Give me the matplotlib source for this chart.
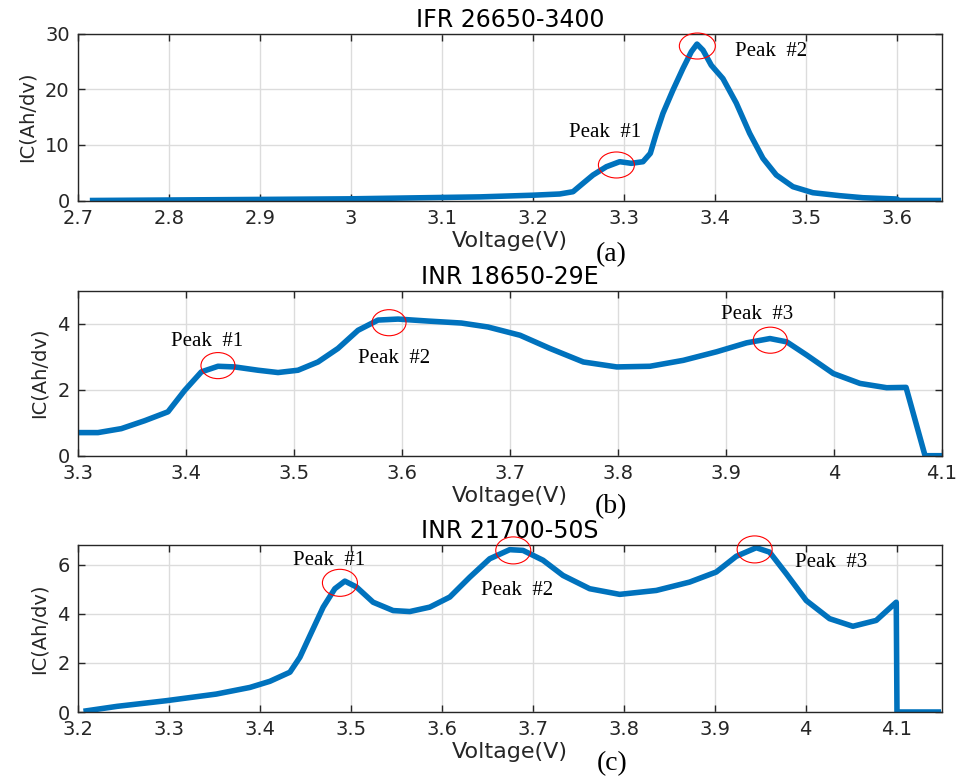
import matplotlib
matplotlib.use("Agg")
import matplotlib.pyplot as plt
from matplotlib.patches import Ellipse

# IC curves: voltage (V) and IC (Ah/dV)
v_ifr = [2.713, 2.907, 2.999, 3.142, 3.200, 3.2297, 3.2443, 3.2553, 3.2663, 3.281,
         3.2956, 3.3084, 3.3212, 3.3293, 3.3359, 3.3432, 3.3542, 3.3652, 3.3744, 3.3806,
         3.3872, 3.3963, 3.4091, 3.4238, 3.4385, 3.4531, 3.4678, 3.4861, 3.508, 3.5374,
         3.563, 3.600, 3.603, 3.649]
ic_ifr = [0.0, 0.2, 0.3, 0.65, 0.95, 1.17, 1.58, 3.09, 4.58, 6.07,
          6.97, 6.68, 6.97, 8.47, 12.07, 15.66, 19.85, 23.74, 26.73, 28.1,
          27.0, 24.3, 21.9, 17.5, 12.07, 7.58, 4.58, 2.48, 1.4, 0.87,
          0.5, 0.27, 0.0, 0.0]

v_29e = [3.300, 3.3185, 3.3401, 3.3617, 3.3833, 3.3988, 3.4142, 3.4296, 3.4451, 3.4667,
         3.4852, 3.5037, 3.5222, 3.5407, 3.5593, 3.5778, 3.5963, 3.6241, 3.655, 3.6796,
         3.7093, 3.737, 3.7679, 3.7988, 3.8296, 3.8605, 3.8914, 3.9191, 3.9407, 3.9562,
         3.9747, 3.9994, 4.0241, 4.0488, 4.0667, 4.0843, 4.100]
ic_29e = [0.70, 0.70, 0.82, 1.06, 1.33, 1.98, 2.54, 2.71, 2.69, 2.59,
          2.52, 2.59, 2.84, 3.25, 3.80, 4.11, 4.14, 4.08, 4.02, 3.90,
          3.65, 3.25, 2.84, 2.69, 2.71, 2.89, 3.15, 3.42, 3.55, 3.45,
          3.05, 2.49, 2.19, 2.06, 2.07, 0.0, 0.0]

v_50s = [3.206, 3.243, 3.297, 3.352, 3.389, 3.411, 3.433, 3.444, 3.455, 3.4696,
         3.4824, 3.4934, 3.5062, 3.5245, 3.5465, 3.5648, 3.5868, 3.6088, 3.6308, 3.6527,
         3.6747, 3.6893, 3.7113, 3.7333, 3.7626, 3.7956, 3.8359, 3.8725, 3.9018, 3.9238,
         3.9458, 3.9604, 3.9788, 4.0007, 4.0264, 4.052, 4.0777, 4.0997, 4.1005, 4.149]
ic_50s = [0.03, 0.23, 0.46, 0.73, 1.00, 1.25, 1.62, 2.23, 3.11, 4.27,
          5.02, 5.33, 5.09, 4.47, 4.13, 4.09, 4.27, 4.68, 5.49, 6.24,
          6.61, 6.58, 6.18, 5.56, 5.02, 4.79, 4.95, 5.29, 5.70, 6.34,
          6.69, 6.51, 5.63, 4.54, 3.80, 3.49, 3.73, 4.47, 0.0, 0.0]

titles = ["IFR 26650-3400", "INR 18650-29E", "INR 21700-50S"]
panel_tags = ["(a)", "(b)", "(c)"]
xlims = [(2.7, 3.65), (3.3, 4.1), (3.2, 4.15)]
ylims = [(0, 30), (0, 5), (0, 6.8)]
xticks = [[2.7, 2.8, 2.9, 3.0, 3.1, 3.2, 3.3, 3.4, 3.5, 3.6],
          [3.3, 3.4, 3.5, 3.6, 3.7, 3.8, 3.9, 4.0, 4.1],
          [3.2, 3.3, 3.4, 3.5, 3.6, 3.7, 3.8, 3.9, 4.0, 4.1]]
yticks = [[0, 10, 20, 30], [0, 2, 4], [0, 2, 4, 6]]

# peak labels: text centre, circle centre
peak_names = [["Peak  #1", "Peak  #2"],
              ["Peak  #1", "Peak  #2", "Peak  #3"],
              ["Peak  #1", "Peak  #2", "Peak  #3"]]
peak_text_xy = [[(3.279, 12.3), (3.4615, 26.7)],
                [(3.4194, 3.45), (3.593, 2.94), (3.929, 4.29)],
                [(3.476, 6.16), (3.683, 4.93), (4.028, 6.07)]]
peak_circ_xy = [[(3.292, 6.38), (3.381, 27.75)],
                [(3.4296, 2.73), (3.588, 4.03), (3.941, 3.50)],
                [(3.488, 5.26), (3.6786, 6.58), (3.944, 6.62)]]
circ_size = [(0.0396, 4.67), (0.0315, 0.79), (0.0385, 1.10)]

curves = [(v_ifr, ic_ifr), (v_29e, ic_29e), (v_50s, ic_50s)]

W, H = 963, 779
fig = plt.figure(figsize=(W / 100, H / 100), dpi=100)

# axes boxes in pixels: left, top, right, bottom
boxes = [(78, 33.5, 942, 200.5), (78, 290.7, 942, 455.7), (78, 545, 942, 712)]
tag_pos = [(611, 255), (611, 507), (612, 764)]

blue = "#0072BD"
dark = "#262626"

for i in range(3):
    l, t, r, b = boxes[i]
    ax = fig.add_axes([l / W, 1 - b / H, (r - l) / W, (b - t) / H])
    v, ic = curves[i]
    ax.plot(v, ic, color=blue, lw=4, solid_joinstyle="round", solid_capstyle="butt")
    ax.set_xlim(*xlims[i])
    ax.set_ylim(*ylims[i])
    ax.set_xticks(xticks[i])
    ax.set_xticklabels([("%g" % x) for x in xticks[i]])
    ax.set_yticks(yticks[i])
    ax.grid(True, color="#dcdcdc", lw=1.0)
    ax.set_axisbelow(True)
    ax.tick_params(direction="in", top=True, right=True, length=5, width=1,
                   color=dark, labelcolor=dark, labelsize=14)
    ax.tick_params(axis="x", pad=6)
    ax.tick_params(axis="y", pad=6)
    for s in ax.spines.values():
        s.set_color(dark)
        s.set_linewidth(1.0)
    ax.set_title(titles[i], fontsize=17, pad=5, color="black")
    ax.set_xlabel("Voltage(V)", fontsize=16, color=dark, labelpad=2)
    ax.set_ylabel("IC(Ah/dv)", fontsize=14, color=dark, labelpad=6)

    cw, ch = circ_size[i]
    for name, txy, cxy in zip(peak_names[i], peak_text_xy[i], peak_circ_xy[i]):
        ax.text(txy[0], txy[1], name, ha="center", va="center",
                fontsize=15, family="Liberation Serif", color="black")
        ax.add_patch(Ellipse(cxy, cw, ch, fill=False, ec="red", lw=0.8,
                             clip_on=False, zorder=5))

    fig.text(tag_pos[i][0] / W, 1 - tag_pos[i][1] / H, panel_tags[i],
             ha="center", va="center", fontsize=20, family="Liberation Serif")

fig.savefig("out.png", dpi=100)
